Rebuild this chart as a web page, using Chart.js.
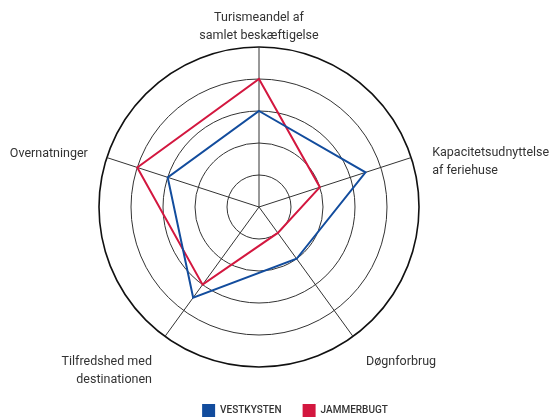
<!DOCTYPE html>
<html>
<head>
<meta charset="utf-8">
<script src="https://cdn.jsdelivr.net/npm/chart.js@4/dist/chart.umd.min.js"></script>
<style>
html,body{margin:0;padding:0;background:#fff;}
#wrap{width:549px;height:418px;}
</style>
</head>
<body>
<div id="wrap"><canvas id="c"></canvas></div>
<script>
// ---- data ----
const categories = [
  ["Turismeandel af", "samlet beskæftigelse"],
  ["Kapacitetsudnyttelse", "af feriehuse"],
  "Døgnforbrug",
  ["Tilfredshed med", "destinationen"],
  "Overnatninger"
];
const vestkysten = [3, 3.5, 2, 3.5, 3];
const jammerbugt = [4, 2, 1, 3, 4];
const seriesNames = ["VESTKYSTEN", "JAMMERBUGT"];

// ---- styling / layout ----
const BLUE = "#124c9d";
const RED = "#d3173f";
const FONT = "Roboto, 'Liberation Sans', sans-serif";
const CENTER = {x: 259, y: 207};
const RADIUS = 160;
// label placement relative to the end of each axis line: [dx, dy(top of text block)]
const LABEL_OFFSETS = [[0, -38], [21, -14], [13, 16], [-13, 16], [-19, -13]];
const LABEL_ALIGN = ['center', 'left', 'left', 'right', 'right'];

function placeRadar(scale) {
  scale.xCenter = CENTER.x;
  scale.yCenter = CENTER.y;
  scale.drawingArea = RADIUS;
  const items = scale._pointLabelItems || [];
  for (let i = 0; i < items.length; i++) {
    const it = items[i];
    const p = scale.getPointPosition(i, RADIUS);
    const w = it.right - it.left, h = it.bottom - it.top;
    const x = p.x + LABEL_OFFSETS[i][0];
    const top = p.y + LABEL_OFFSETS[i][1];
    const align = LABEL_ALIGN[i];
    const left = align === 'center' ? x - w / 2 : (align === 'right' ? x - w : x);
    Object.assign(it, {visible: true, x: x, y: top, textAlign: align, left: left, right: left + w, top: top, bottom: top + h});
  }
}

new Chart(document.getElementById('c'), {
  type: 'radar',
  data: {
    labels: categories,
    datasets: [
      {label: seriesNames[0], data: vestkysten, borderColor: BLUE, backgroundColor: BLUE, borderWidth: 2, fill: false, pointRadius: 0, pointHoverRadius: 0},
      {label: seriesNames[1], data: jammerbugt, borderColor: RED, backgroundColor: RED, borderWidth: 2, fill: false, pointRadius: 0, pointHoverRadius: 0}
    ]
  },
  options: {
    responsive: true,
    maintainAspectRatio: false,
    animation: false,
    layout: {padding: {top: 0, bottom: -9, left: 41, right: 0}},
    plugins: {
      legend: {
        position: 'bottom',
        labels: {
          boxWidth: 13, boxHeight: 13, padding: 21, color: '#333',
          font: {family: FONT, size: 10, weight: '500'},
          generateLabels: (chart) => Chart.defaults.plugins.legend.labels.generateLabels(chart).map(l => Object.assign(l, {lineWidth: 0}))
        }
      },
      tooltip: {enabled: false}
    },
    scales: {
      r: {
        min: 0, max: 5,
        afterFit: placeRadar,
        ticks: {stepSize: 1, display: false},
        grid: {circular: true, color: (ctx) => ctx.tick && ctx.tick.value === 5 ? '#111' : '#333', lineWidth: (ctx) => ctx.tick && ctx.tick.value === 5 ? 1.6 : 1},
        angleLines: {color: '#333', lineWidth: 1},
        pointLabels: {color: '#333', padding: 2, font: {family: FONT, size: 12.5, lineHeight: 1.45}}
      }
    }
  }
});
</script>
</body>
</html>
